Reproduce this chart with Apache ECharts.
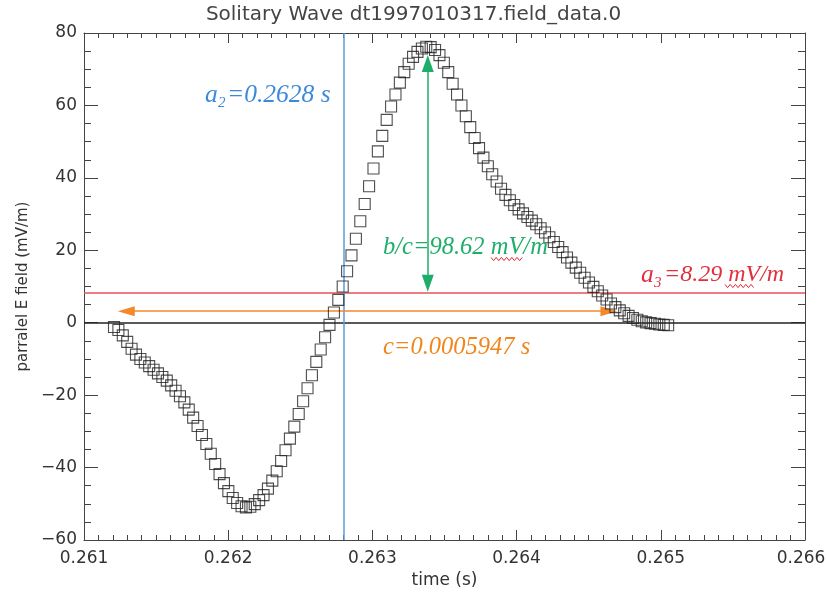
<!DOCTYPE html>
<html><head><meta charset="utf-8">
<script src="https://cdn.jsdelivr.net/npm/echarts@6/dist/echarts.min.js"></script>
<style>html,body{margin:0;padding:0;background:#fff}#c{width:827px;height:596px}</style>
</head><body><div id="c"></div>
<script>
// sample times (s)
const times = [
0.2612080,0.2612385,0.2612690,0.2612995,0.2613300,0.2613605,0.2613910,0.2614215,0.2614520,0.2614825,
0.2615130,0.2615435,0.2615740,0.2616045,0.2616350,0.2616655,0.2616960,0.2617265,0.2617570,0.2617875,
0.2618180,0.2618485,0.2618790,0.2619095,0.2619400,0.2619705,0.2620010,0.2620315,0.2620620,0.2620925,
0.2621230,0.2621535,0.2621840,0.2622145,0.2622450,0.2622755,0.2623060,0.2623365,0.2623670,0.2623975,
0.2624280,0.2624585,0.2624890,0.2625195,0.2625500,0.2625805,0.2626110,0.2626415,0.2626720,0.2627025,
0.2627330,0.2627635,0.2627940,0.2628245,0.2628550,0.2628855,0.2629160,0.2629465,0.2629770,0.2630075,
0.2630380,0.2630685,0.2630990,0.2631295,0.2631600,0.2631905,0.2632210,0.2632515,0.2632820,0.2633125,
0.2633430,0.2633735,0.2634040,0.2634345,0.2634650,0.2634955,0.2635260,0.2635565,0.2635870,0.2636175,
0.2636480,0.2636785,0.2637090,0.2637395,0.2637700,0.2638005,0.2638310,0.2638615,0.2638920,0.2639225,
0.2639530,0.2639835,0.2640140,0.2640445,0.2640750,0.2641055,0.2641360,0.2641665,0.2641970,0.2642275,
0.2642580,0.2642885,0.2643190,0.2643495,0.2643800,0.2644105,0.2644410,0.2644715,0.2645020,0.2645325,
0.2645630,0.2645935,0.2646240,0.2646545,0.2646850,0.2647155,0.2647460,0.2647765,0.2648070,0.2648375,
0.2648680,0.2648985,0.2649290,0.2649595,0.2649900,0.2650205,0.2650510
];
// parallel E field (mV/m)
const fieldValues = [
-1.2,-2.0,-3.5,-5.3,-7.2,-8.8,-10.0,-11.0,-12.0,-13.0,
-14.0,-15.0,-16.0,-17.3,-18.8,-20.3,-22.0,-24.0,-26.2,-28.5,
-31.0,-33.5,-36.2,-39.0,-41.8,-44.3,-46.5,-48.4,-49.8,-50.7,
-51.0,-50.8,-50.1,-49.0,-47.6,-45.8,-43.6,-41.0,-38.2,-35.2,
-32.0,-28.7,-25.2,-21.7,-18.1,-14.5,-10.8,-7.4,-4.0,-0.6,
2.8,6.3,10.0,14.2,18.6,23.2,28.0,32.8,37.7,42.6,
47.3,51.6,56.0,59.7,63.0,66.3,69.2,71.5,73.4,74.8,
75.7,76.2,76.1,75.3,73.9,71.8,69.2,66.0,63.0,60.0,
57.0,54.0,51.0,48.2,45.6,43.2,41.0,39.0,37.0,35.3,
33.8,32.5,31.3,30.2,29.2,28.2,27.2,26.1,24.9,23.6,
22.3,20.9,19.5,18.0,16.6,15.2,13.8,12.4,11.1,9.9,
8.7,7.5,6.4,5.3,4.3,3.4,2.6,1.9,1.3,0.8,
0.4,0.1,-0.1,-0.3,-0.5,-0.6,-0.7
];
// annotation values
const a2Time = 0.2628;          // blue vertical line
const a3Level = 8.29;          // red horizontal line
const peakArrowTime = 0.263384;
const peakArrowEnds = [10.9, 71.6];
const widthArrowLevel = 3.2;
const widthArrowEnds = [0.2612931, 0.2646403];
const xRange = [0.261, 0.266, 0.001];
const yRange = [-60, 80, 20];

const points = times.map((t, i) => [t, fieldValues[i]]);
const chart = echarts.init(document.getElementById('c'), null, {renderer: 'canvas'});

const tickFont = {fontFamily: 'DejaVu Sans', fontSize: 17, color: '#333'};
const axisLineStyle = {color: '#444', width: 1};

function wavy(x0, x1, y0) {
  const pts = [];
  let k = 0;
  for (let x = x0; x <= x1; x += 2.6, k++) pts.push([x, y0 + (k % 2 ? 1.6 : -1.6)]);
  return {type: 'polyline', shape: {points: pts}, style: {stroke: '#e02a36', lineWidth: 1, fill: null}, z: 100};
}
function txt(x, y, text, color, size) {
  return {type: 'text', x: x, y: y, z: 100,
    style: {text: text, fill: color, verticalAlign: 'middle', fontFamily: 'Liberation Serif',
            fontStyle: 'italic', fontSize: size}};
}

chart.setOption({
  animation: false,
  backgroundColor: '#fff',
  title: {
    text: 'Solitary Wave dt1997010317.field_data.0',
    left: 'center', top: 0,
    textStyle: {fontFamily: 'DejaVu Sans', fontSize: 20, fontWeight: 'normal', color: '#444'}
  },
  grid: {left: 84, right: 22, top: 33, bottom: 56, outerBoundsMode: 'none', containLabel: false},
  xAxis: [{
    type: 'value', min: xRange[0], max: xRange[1], interval: xRange[2], position: 'bottom',
    name: 'time (s)', nameLocation: 'middle', nameGap: 32,
    nameTextStyle: {fontFamily: 'DejaVu Sans', fontSize: 17, color: '#333'},
    axisLine: {onZero: false, lineStyle: axisLineStyle},
    axisTick: {inside: true, length: 10, lineStyle: axisLineStyle},
    minorTick: {show: true, splitNumber: 10, length: 5, lineStyle: axisLineStyle},
    axisLabel: Object.assign({
      margin: 10,
      formatter: v => Math.abs(v - xRange[1]) < 1e-9 ? '{last|' + v.toFixed(3) + '}' : v.toFixed(3),
      rich: {last: {fontFamily: 'DejaVu Sans', fontSize: 17, color: '#333', padding: [0, 8, 0, 0]}}
    }, tickFont),
    splitLine: {show: false}
  }, {
    type: 'value', min: xRange[0], max: xRange[1], interval: xRange[2], position: 'top',
    axisLine: {onZero: false, lineStyle: axisLineStyle},
    axisTick: {inside: true, length: 10, lineStyle: axisLineStyle},
    minorTick: {show: true, splitNumber: 10, length: 5, lineStyle: axisLineStyle},
    axisLabel: {show: false}, splitLine: {show: false}
  }],
  yAxis: [{
    type: 'value', min: yRange[0], max: yRange[1], interval: yRange[2], position: 'left',
    name: 'parralel E field (mV/m)', nameLocation: 'middle', nameGap: 50,
    nameTextStyle: {fontFamily: 'DejaVu Sans', fontSize: 15, color: '#333'},
    axisLine: {onZero: false, lineStyle: axisLineStyle},
    axisTick: {inside: true, length: 14, lineStyle: axisLineStyle},
    minorTick: {show: true, splitNumber: 4, length: 7, lineStyle: axisLineStyle},
    axisLabel: Object.assign({margin: 7, formatter: v => String(v).replace('-', '\u2212')}, tickFont),
    splitLine: {show: false}
  }, {
    type: 'value', min: yRange[0], max: yRange[1], interval: yRange[2], position: 'right',
    axisLine: {onZero: false, lineStyle: axisLineStyle},
    axisTick: {inside: true, length: 14, lineStyle: axisLineStyle},
    minorTick: {show: true, splitNumber: 4, length: 7, lineStyle: axisLineStyle},
    axisLabel: {show: false}, splitLine: {show: false}
  }],
  series: [{
    type: 'scatter',
    data: points,
    symbol: 'rect',
    symbolSize: 11,
    itemStyle: {color: 'rgba(0,0,0,0)', borderColor: '#222', borderWidth: 1.1},
    emphasis: {disabled: true},
    z: 5,
    markLine: {
      silent: true, animation: false, symbol: 'none', precision: 7,
      label: {show: false},
      data: [
        [{coord: [xRange[0], 0], lineStyle: {color: '#222', width: 1.5, type: 'solid'}}, {coord: [xRange[1], 0]}],
        [{coord: [xRange[0], a3Level], lineStyle: {color: '#e8505a', width: 1.5, type: 'solid'}}, {coord: [xRange[1], a3Level]}],
        [{coord: [a2Time, yRange[0]], lineStyle: {color: '#5b9bd5', width: 1.5, type: 'solid'}}, {coord: [a2Time, yRange[1]]}],
        [{coord: [peakArrowTime, peakArrowEnds[0]], symbol: 'triangle', symbolSize: [12, 17],
          lineStyle: {color: '#1fae6a', width: 1.5, type: 'solid'}, itemStyle: {color: '#1fae6a'}},
         {coord: [peakArrowTime, peakArrowEnds[1]], symbol: 'triangle', symbolSize: [12, 17], itemStyle: {color: '#1fae6a'}}],
        [{coord: [widthArrowEnds[0], widthArrowLevel], symbol: 'triangle', symbolSize: [10, 17],
          lineStyle: {color: '#f5882a', width: 1.5, type: 'solid'}, itemStyle: {color: '#f5882a'}},
         {coord: [widthArrowEnds[1], widthArrowLevel], symbol: 'triangle', symbolSize: [10, 17], itemStyle: {color: '#f5882a'}}]
      ]
    }
  }],
  graphic: [
    txt(205, 95, 'a', '#3c8ad8', 25.5), txt(218, 103, '2', '#3c8ad8', 15), txt(227, 95, '=0.2628 s', '#3c8ad8', 25.5),
    txt(383, 248, 'b/c=98.62 mV/m', '#1fae6a', 24.5),
    txt(641, 275, 'a', '#e0303e', 25.5), txt(654, 283, '3', '#e0303e', 15), txt(664, 275, '=8.29 mV/m', '#e0303e', 24),
    txt(383, 348, 'c=0.0005947 s', '#f0861c', 24.5),
    wavy(491, 523, 259), wavy(725, 756, 286)
  ]
});
</script></body></html>
